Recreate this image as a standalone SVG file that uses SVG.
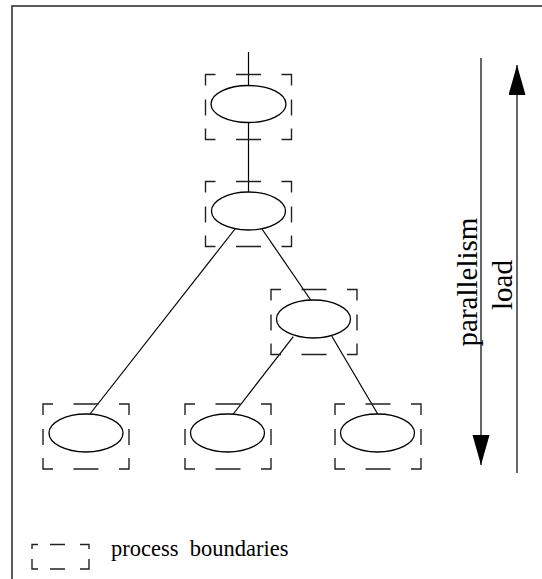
<svg xmlns="http://www.w3.org/2000/svg" width="542" height="579" viewBox="0 0 542 579">
<style>
.frame{fill:none;stroke:#333;stroke-width:1.6}
.box{fill:none;stroke:#222;stroke-width:1.4}
.ell{fill:#fff;stroke:#000;stroke-width:1.3}
.edge{fill:none;stroke:#000;stroke-width:1.2}
</style>
<defs>
<path id="pbox" class="box" d="M0,11 V0 H10 M30.5,0 H55.5 M76,0 H86 V11 M86,25 V41 M86,54 V65 H76 M55.5,65 H30.5 M10,65 H0 V54 M0,41 V25"/>
<marker id="ah" markerUnits="userSpaceOnUse" markerWidth="32" markerHeight="18" refX="30" refY="8.5" orient="auto">
<path d="M0,0 L30,8.5 L0,17 Z" fill="#000"/>
</marker>
</defs>
<rect class="frame" x="12" y="6" width="560" height="620"/>
<g id="connectors">
<line class="edge" x1="248.5" y1="52" x2="248.5" y2="192"/>
<line class="edge" x1="235" y1="229" x2="90" y2="414"/>
<line class="edge" x1="262" y1="229" x2="310.7" y2="300"/>
<line class="edge" x1="293.3" y1="336.7" x2="233.3" y2="414"/>
<line class="edge" x1="331.7" y1="336" x2="377.7" y2="414"/>
</g>
<g id="n1"><use href="#pbox" x="205.5" y="74.5"/><ellipse class="ell" cx="248.5" cy="104" rx="37.5" ry="18.5"/></g>
<g id="n2"><use href="#pbox" x="205.5" y="181.5"/><ellipse class="ell" cx="248.5" cy="211" rx="37" ry="19"/></g>
<g id="n3"><use href="#pbox" x="271" y="289.5"/><ellipse class="ell" cx="313.5" cy="319" rx="37" ry="19"/></g>
<g id="n4"><use href="#pbox" x="43" y="404"/><ellipse class="ell" cx="86" cy="433" rx="37" ry="19"/></g>
<g id="n5"><use href="#pbox" x="185" y="404"/><ellipse class="ell" cx="227.5" cy="433" rx="37" ry="19"/></g>
<g id="n6"><use href="#pbox" x="335" y="404"/><ellipse class="ell" cx="377.5" cy="433" rx="37" ry="19"/></g>
<g id="axes">
<line class="edge" x1="481" y1="58" x2="481" y2="465" marker-end="url(#ah)"/>
<line class="edge" x1="517" y1="473" x2="517" y2="65" marker-end="url(#ah)"/>
<text font-family="Liberation Serif, serif" font-size="29" text-anchor="middle" transform="translate(476.5,282) rotate(-90)">parallelism</text>
<text font-family="Liberation Serif, serif" font-size="29" text-anchor="middle" transform="translate(511.5,285) rotate(-90)">load</text>
</g>
<g id="legend">
<path class="box" d="M32,549 V544.5 H38 M50,544.5 H65 M80,544.5 H89 V549 M89,559 V569 H80 M65,569 H50 M38,569 H32 V559"/>
<text font-family="Liberation Serif, serif" font-size="22.5" x="111" y="556" xml:space="preserve">process  boundaries</text>
</g>
</svg>
